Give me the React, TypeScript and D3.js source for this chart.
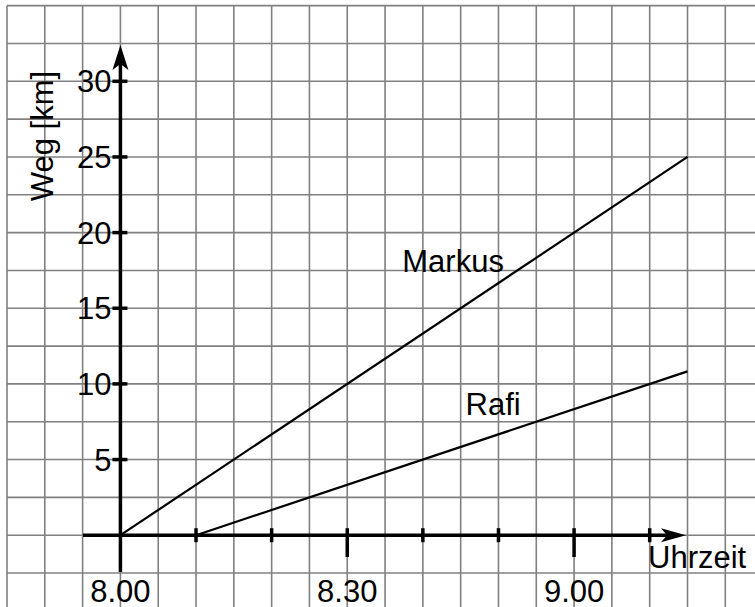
import React from "react";
import * as d3 from "d3";

// minutes after 8.00 -> distance in km
const markusMinutes = [0, 75];
const markusKm = [0, 25];
const rafiMinutes = [10, 75];
const rafiKm = [0, 10.83];

const yTicks = [5, 10, 15, 20, 25, 30];
const xMinorTicks = [10, 20, 40, 50, 70];
const xMajorTicks = [30, 60];
const xLabelTicks = [0, 30, 60];
const xLabels = ["8.00", "8.30", "9.00"];

const W = 755;
const H = 607;
const FONT = "'Liberation Sans', Arial, Helvetica, sans-serif";

export default function App() {
  const x = d3.scaleLinear().domain([-15, 75]).range([7, 687.5]);
  const y = d3.scaleLinear().domain([0, 30]).range([535.2, 81.3]);

  const gridX = d3.range(-15, 90, 5).filter((m) => x(m) <= W);
  const gridY = d3.range(-5, 37.5, 2.5).filter((k) => y(k) <= H && y(k) >= 0);

  const line = d3
    .line<[number, number]>()
    .x((d) => x(d[0]))
    .y((d) => y(d[1]));

  const markusPts = markusMinutes.map((m, i) => [m, markusKm[i]] as [number, number]);
  const rafiPts = rafiMinutes.map((m, i) => [m, rafiKm[i]] as [number, number]);

  const x0 = x(0);
  const y0 = y(0);
  const yTop = 45;
  const xRight = 686;

  return (
    <svg
      width={W}
      height={H}
      style={{ position: "absolute", left: 0, top: 0, background: "#fff" }}
      fontFamily={FONT}
    >
      <rect x={0} y={0} width={W} height={H} fill="#fff" />
      {/* grid */}
      <g stroke="#808080" strokeWidth={1.6}>
        {gridX.map((m) => (
          <line key={"gx" + m} x1={x(m)} x2={x(m)} y1={y(35)} y2={H} />
        ))}
        {gridY.map((k) => (
          <line key={"gy" + k} x1={x(-15)} x2={W} y1={y(k)} y2={y(k)} />
        ))}
      </g>

      {/* data lines */}
      <path d={line(markusPts) || ""} fill="none" stroke="#000" strokeWidth={2.2} />
      <path d={line(rafiPts) || ""} fill="none" stroke="#000" strokeWidth={2.2} />

      {/* axes */}
      <g stroke="#000" strokeWidth={3.5}>
        <line x1={x0} x2={x0} y1={62} y2={572} />
        <line x1={83} x2={670} y1={y0} y2={y0} />
        {yTicks.map((t) => (
          <line key={"yt" + t} x1={x0 - 8} x2={x0 + 7} y1={y(t)} y2={y(t)} />
        ))}
        {xMinorTicks.map((t) => (
          <line key={"xt" + t} x1={x(t)} x2={x(t)} y1={y0 - 7} y2={y0 + 7} />
        ))}
        {xMajorTicks.map((t) => (
          <line key={"xM" + t} x1={x(t)} x2={x(t)} y1={y0 - 7} y2={557} />
        ))}
      </g>
      {/* arrowheads */}
      <path
        d={`M${x0},${yTop} L${x0 + 8},${yTop + 25} L${x0},${yTop + 19} L${x0 - 8},${yTop + 25} Z`}
        fill="#000"
      />
      <path
        d={`M${xRight},${y0} L${xRight - 25},${y0 + 7} L${xRight - 19},${y0} L${xRight - 25},${y0 - 7} Z`}
        fill="#000"
      />

      {/* tick labels */}
      <g fontSize={31} fill="#000">
        {yTicks.map((t) => (
          <text key={"yl" + t} x={x0 - 9} y={y(t) + 11} textAnchor="end">
            {t}
          </text>
        ))}
        {xLabelTicks.map((t, i) => (
          <text key={"xl" + t} x={x(t)} y={602} textAnchor="middle">
            {xLabels[i]}
          </text>
        ))}
        <text x={648} y={568}>
          Uhrzeit
        </text>
        <text x={53} y={136} textAnchor="middle" transform="rotate(-90 53 136)">
          Weg [km]
        </text>
        <text x={x(44)} y={y(17.4)} textAnchor="middle">
          Markus
        </text>
        <text x={x(49.3)} y={y(7.94)} textAnchor="middle">
          Rafi
        </text>
      </g>
    </svg>
  );
}
